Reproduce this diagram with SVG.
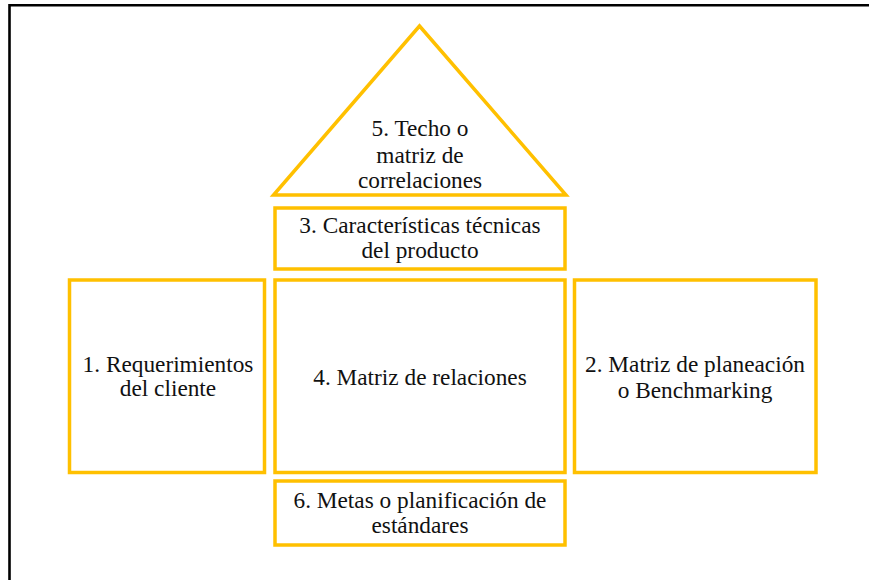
<svg xmlns="http://www.w3.org/2000/svg" width="869" height="580" viewBox="0 0 869 580">
<style>
.box{fill:#FFFFFF;stroke:#FFC000;stroke-width:3.5}
.t{font-size:23.3px;fill:#111;text-anchor:middle}
</style>
<rect width="869" height="580" fill="#FFFFFF"/>
<path d="M9.5,580 V5.3 H869" fill="none" stroke="#000" stroke-width="2.6"/>
<g id="node5">
<polygon class="box" points="419.5,26 566,195 273.5,195"/>
<text class="t" font-family="Liberation Serif, serif" x="420" y="136">5. Techo o</text>
<text class="t" font-family="Liberation Serif, serif" x="420" y="162.5">matriz de</text>
<text class="t" font-family="Liberation Serif, serif" x="420" y="188">correlaciones</text>
</g>
<g id="node3">
<rect class="box" x="275" y="208" width="290" height="61"/>
<text class="t" font-family="Liberation Serif, serif" x="420" y="233">3. Características técnicas</text>
<text class="t" font-family="Liberation Serif, serif" x="420" y="258">del producto</text>
</g>
<g id="node1">
<rect class="box" x="69.5" y="280" width="195" height="192.5"/>
<text class="t" font-family="Liberation Serif, serif" x="168" y="371.5">1. Requerimientos</text>
<text class="t" font-family="Liberation Serif, serif" x="168" y="396">del cliente</text>
</g>
<g id="node4">
<rect class="box" x="275" y="280" width="290" height="192.5"/>
<text class="t" font-family="Liberation Serif, serif" x="420" y="385">4. Matriz de relaciones</text>
</g>
<g id="node2">
<rect class="box" x="574.5" y="280" width="241.5" height="192.5"/>
<text class="t" font-family="Liberation Serif, serif" x="695" y="372">2. Matriz de planeación</text>
<text class="t" font-family="Liberation Serif, serif" x="695" y="398">o Benchmarking</text>
</g>
<g id="node6">
<rect class="box" x="275" y="481" width="290" height="64"/>
<text class="t" font-family="Liberation Serif, serif" x="420" y="508">6. Metas o planificación de</text>
<text class="t" font-family="Liberation Serif, serif" x="420" y="533">estándares</text>
</g>
<g id="connectors"></g>
</svg>
